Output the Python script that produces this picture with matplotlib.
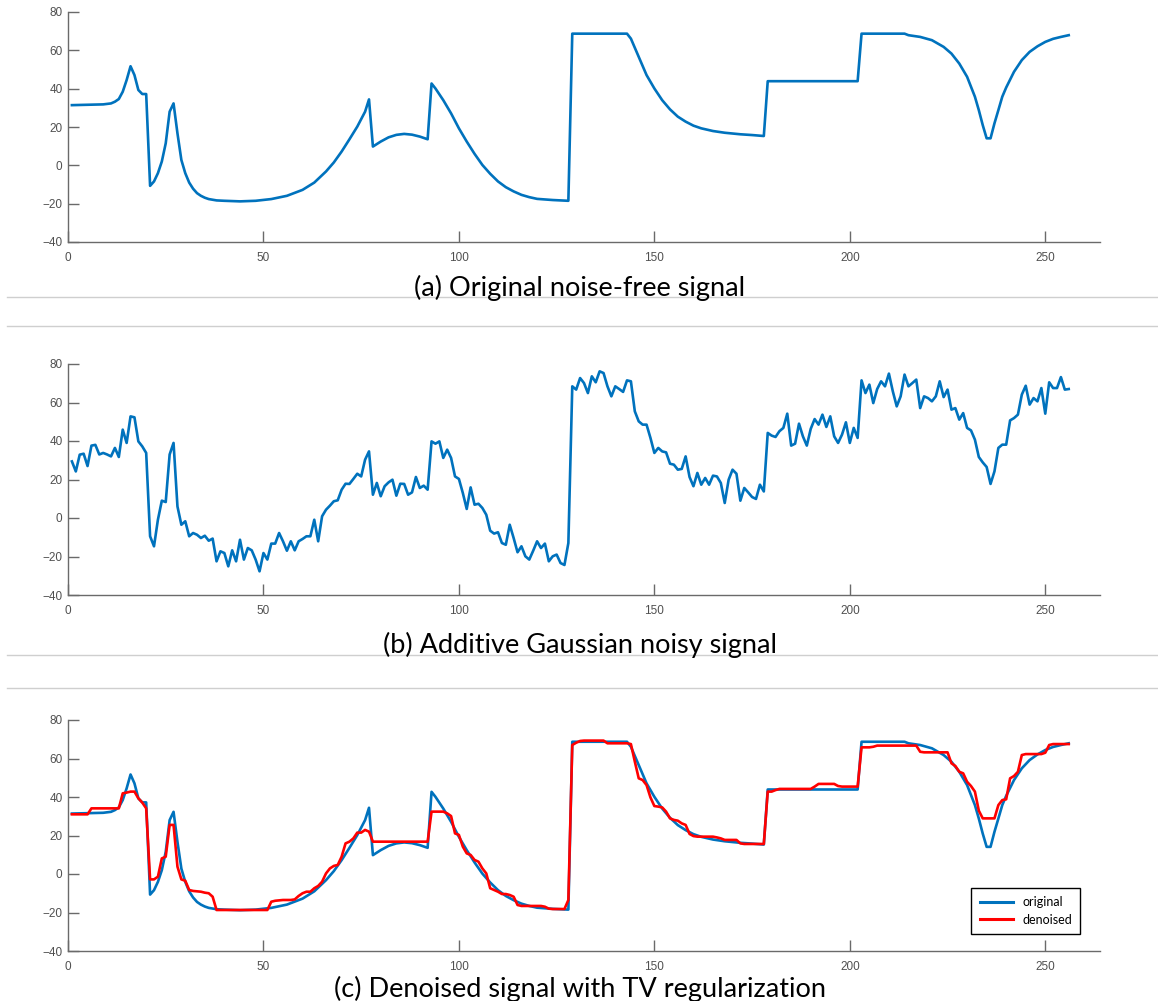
import numpy as np
import matplotlib
matplotlib.use("Agg")
import matplotlib.pyplot as plt
from matplotlib.lines import Line2D

# clean piece-regular signal, sampled at breakpoints and along the curves
x_clean = [1, 9, 11, 12, 13, 14, 15, 16, 17, 18,
           19, 20, 21, 22, 23, 24, 25, 26, 27, 28,
           29, 30, 31, 32, 33, 34, 35, 36, 38, 40,
           44, 48, 52, 56, 60, 63, 66, 68, 70, 72,
           74, 76, 77, 78, 80, 82, 84, 86, 88, 90,
           92, 93, 94, 96, 98, 100, 102, 104, 106, 108,
           110, 112, 114, 116, 118, 120, 124, 128, 129, 143,
           144, 146, 148, 150, 152, 154, 156, 158, 160, 162,
           165, 168, 172, 175, 178, 179, 202, 203, 214, 215,
           218, 221, 224, 226, 228, 230, 232, 233, 234, 235,
           236, 237, 238, 239, 240, 242, 244, 246, 248, 250,
           252, 254, 256]
y_clean = [31.4, 31.8, 32.3, 33.2, 34.6, 38.4, 44.5, 51.7, 47.1, 39.3,
           37.2, 37.2, -10.7, -8.4, -4.1, 2, 11.5, 28, 32.3, 16.7,
           2.8, -4.1, -9, -12.2, -14.5, -15.9, -16.9, -17.6, -18.3, -18.5,
           -18.8, -18.5, -17.6, -15.9, -12.8, -9, -3.2, 1.5, 7.2, 13.6,
           20.2, 28, 34.4, 9.8, 12.4, 14.6, 15.9, 16.4, 16, 15,
           13.6, 42.7, 40.1, 34, 27.1, 19.3, 12.4, 6, 0.2, -4.4,
           -8.4, -11.4, -13.6, -15.4, -16.6, -17.5, -18.1, -18.5, 68.7, 68.7,
           66.1, 56.6, 47.1, 40.1, 34, 29.2, 25.4, 22.8, 20.7, 19.3,
           17.9, 17, 16.2, 15.8, 15.3, 43.9, 43.9, 68.7, 68.7, 67.9,
           67, 65.3, 61.8, 58.3, 53.1, 46.2, 35.8, 28.8, 21, 14.1,
           14.1, 21.9, 28.8, 35.8, 40.6, 48.8, 54.9, 59.2, 62.1, 64.4,
           66, 67, 67.9]

# signal with additive gaussian noise, one value per sample
noisy = [29.4, 24.2, 32.9, 33.4, 27, 37.6, 38, 33, 33.8, 33, 32, 36.4, 31.7, 45.9, 39, 52.8,
         52.3, 39.8, 37.2, 33.8, -9.5, -14.7, -0.9, 9, 8.3, 33, 39, 6, -3.5, -1.7, -9.5, -7.8,
         -8.7, -10.4, -9.2, -11.8, -10.7, -22.5, -17.3, -18.2, -25.1, -16.8, -22.5, -11.3, -21.6, -15.6, -16.8, -21.6,
         -27.7, -18.2, -21.6, -13.3, -13.3, -7.8, -12.1, -17, -12.1, -16.8, -12.1, -10.9, -9.5, -9.5, -0.9, -12.1,
         0.9, 4.3, 6.4, 8.7, 9.2, 14.7, 17.8, 17.7, 20.3, 23, 21.6, 30.3, 34.6, 12.1, 18.2, 11.3,
         16.5, 18.5, 19.9, 11.6, 17.8, 17.7, 12.1, 13.3, 21.3, 15.6, 16.8, 14.7, 39.8, 38.6, 39.8, 31.2,
         35.5, 31.2, 21.6, 20.3, 13, 4.7, 15.9, 6.9, 7.4, 5.2, 1.7, -6.6, -8.1, -7.4, -13, -13.9,
         -3.5, -10.4, -17.8, -14.7, -19.9, -21.6, -17, -12.1, -15.6, -13.3, -22.5, -19.9, -19, -23.4, -24.4, -13,
         68.4, 66.7, 72.7, 70.1, 64.9, 73.6, 70.5, 76.2, 75.3, 68.4, 63.2, 68.4, 67, 65.5, 71.5, 71,
         55.4, 50.2, 48.5, 48.5, 41.6, 33.8, 36.4, 34.6, 34.1, 28.2, 27.7, 25.1, 25.5, 32, 21.3, 16.5,
         23.4, 17.3, 20.8, 17.3, 22, 21.6, 18.2, 7.8, 19.9, 25.1, 23, 9, 15.6, 13.3, 10.9, 9.9,
         17.3, 13.8, 44.2, 42.8, 42.1, 45.1, 46.8, 54.2, 37.6, 38.6, 49, 42.4, 37.6, 46.3, 51.4, 48.5,
         53.7, 47.3, 52.8, 42.4, 39, 43.3, 49.7, 39, 46.8, 41.6, 71.5, 64.9, 69.3, 59.7, 67, 71,
         68.4, 75, 65.8, 58, 63.2, 74.5, 68.4, 70.1, 71.9, 57.1, 63.2, 62.3, 60.6, 63.2, 71, 62.8,
         66.7, 56.3, 57.1, 51.1, 54.5, 46.8, 45.5, 40.7, 31.7, 28.9, 26.5, 17.7, 24.2, 36.4, 38.1, 38.1,
         50.7, 51.9, 53.7, 64.1, 68.7, 58.9, 62.3, 60.6, 67.5, 54.2, 70.5, 67.5, 67.5, 73.2, 66.7, 67]

# TV-regularised reconstruction, one value per sample
denoised = [31, 31, 31, 31, 31, 34.1, 34.1, 34.1, 34.1, 34.1, 34.1, 34.1, 34.1, 41.9, 42.3, 42.8,
            42.8, 39.3, 37.1, 34.1, -2.8, -2.8, -1.4, 8.1, 9, 25.5, 25.5, 3.8, -2.8, -3.5, -8.3, -8.8,
            -9, -9.2, -9.7, -10, -11.8, -18.7, -18.7, -18.7, -18.7, -18.7, -18.7, -18.7, -18.7, -18.7, -18.7, -18.7,
            -18.7, -18.7, -18.7, -14.4, -13.9, -13.7, -13.5, -13.5, -13.5, -13.2, -11.4, -10, -9.2, -9.2, -7.4, -6.2,
            -4, 0.3, 2.9, 4.2, 4.7, 9, 15.9, 16.8, 18.5, 21.5, 21.5, 22.9, 22, 16.8, 16.8, 16.8,
            16.8, 16.8, 16.8, 16.8, 16.8, 16.8, 16.8, 16.8, 16.8, 16.8, 16.8, 16.8, 32.4, 32.4, 32.4, 32.4,
            31.5, 30.1, 21.1, 20.3, 14.2, 10.7, 9.9, 7.3, 6.4, 2.9, 0.3, -7.4, -8.3, -9.2, -10.4, -10.4,
            -10.9, -11.8, -16.1, -16.6, -16.6, -16.6, -16.6, -16.6, -16.6, -17, -18, -18.2, -18.2, -18.2, -18.2, -13.5,
            67, 68.2, 69.1, 69.3, 69.3, 69.3, 69.3, 69.3, 69.3, 67.9, 67.9, 67.9, 67.9, 67.9, 67.9, 67.5,
            58.4, 49.7, 48.8, 46.2, 39.8, 35.3, 35, 34.6, 32.4, 28.9, 28.1, 27.7, 26.3, 25.5, 20.8, 19.7,
            19.4, 19.4, 19.4, 19.4, 19.4, 19, 18.5, 17.7, 17.7, 17.7, 17.7, 15.9, 15.6, 15.6, 15.6, 15.6,
            15.6, 15.6, 42.8, 42.8, 43.6, 44.2, 44.2, 44.2, 44.2, 44.2, 44.2, 44.2, 44.2, 44.2, 45.4, 46.8,
            46.8, 46.8, 46.8, 46.8, 45.7, 45.4, 45.4, 45.4, 45.4, 45.4, 65.8, 65.8, 65.8, 66.1, 66.7, 66.7,
            66.7, 66.7, 66.7, 66.7, 66.7, 66.7, 66.7, 66.7, 66.7, 63.5, 63.2, 63.2, 63.2, 63.2, 63.2, 63.2,
            63.2, 57.5, 56.1, 53.1, 52.3, 47.9, 45.7, 42.8, 32.9, 28.9, 28.9, 28.9, 28.9, 35.8, 38.4, 38.8,
            49.7, 50.9, 53.1, 61.8, 62.3, 62.3, 62.3, 62.3, 62.3, 63, 67, 67.5, 67.5, 67.5, 67.5, 67.5]

captions = ["(a) Original noise-free signal",
            "(b) Additive Gaussian noisy signal",
            "(c) Denoised signal with TV regularization"]
legend_labels = ["original", "denoised"]

samples = np.arange(1, len(noisy) + 1)

BLUE = "#0072BD"
RED = "#FF0000"
AXIS_GREY = "#6a6a6a"
LABEL_GREY = "#505050"
W, H = 1158, 1001


def px_rect(top, bottom, left=68, right=1100):
    return [left / W, 1 - bottom / H, (right - left) / W, (bottom - top) / H]


def style_axes(ax):
    ax.set_xlim(0, 264)
    ax.set_ylim(-40, 80)
    ax.set_xticks([0, 50, 100, 150, 200, 250])
    ax.set_yticks([-40, -20, 0, 20, 40, 60, 80])
    for side in ("top", "right"):
        ax.spines[side].set_visible(False)
    for side in ("left", "bottom"):
        ax.spines[side].set_color(AXIS_GREY)
        ax.spines[side].set_linewidth(1.0)
    ax.tick_params(direction="in", length=8, width=1, color=AXIS_GREY,
                   labelcolor=LABEL_GREY, labelsize=8.5)
    ax.tick_params(axis="x", pad=7)
    ax.tick_params(axis="y", pad=4)
    for lab in ax.get_xticklabels() + ax.get_yticklabels():
        lab.set_family("Liberation Sans")


fig = plt.figure(figsize=(W / 100, H / 100), dpi=100)

ax_a = fig.add_axes(px_rect(12, 242))
ax_a.plot(x_clean, y_clean, color=BLUE, lw=1.9)
style_axes(ax_a)

ax_b = fig.add_axes(px_rect(364, 595))
ax_b.plot(samples, noisy, color=BLUE, lw=1.9)
style_axes(ax_b)

ax_c = fig.add_axes(px_rect(720, 951))
ax_c.plot(x_clean, y_clean, color=BLUE, lw=1.9, label=legend_labels[0])
ax_c.plot(samples, denoised, color=RED, lw=1.9, label=legend_labels[1])
style_axes(ax_c)
leg = ax_c.legend(loc="lower right", bbox_to_anchor=(0.9806, 0.0736),
                  borderaxespad=0, fancybox=False, framealpha=1,
                  edgecolor="black", handlelength=2.7, handletextpad=0.7,
                  labelspacing=0.45, borderpad=0.65,
                  prop={"family": "Lato", "size": 9})
leg.get_frame().set_linewidth(1.0)
for h in leg.get_lines():
    h.set_linewidth(2.2)

# captions under each panel
for text, base in zip(captions, [296, 653, 997]):
    fig.text(580 / W, 1 - base / H, text, ha="center", va="baseline",
             fontsize=19.5, family="Lato", color="black")

# thin rules between the panels
for y in [297, 326, 655, 688]:
    fig.add_artist(Line2D([7 / W, 1], [1 - y / H, 1 - y / H],
                          transform=fig.transFigure, color="#cfcfcf", lw=1))

fig.savefig("out.png", dpi=100)
